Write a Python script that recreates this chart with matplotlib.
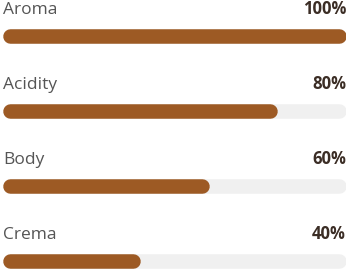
import matplotlib
matplotlib.use("Agg")
import matplotlib.pyplot as plt
from matplotlib import transforms

categories = ["Aroma", "Acidity", "Body", "Crema"]
values = [100, 80, 60, 40]
value_labels = ["100%", "80%", "60%", "40%"]

W, H, DPI = 347, 270, 100
fig = plt.figure(figsize=(W / DPI, H / DPI), dpi=DPI)
fig.patch.set_facecolor("white")

left_px, right_px = 3, 346
ax = fig.add_axes([left_px / W, 0, (right_px - left_px) / W, 1])
ax.set_xlim(0, 100)
first_c, step = 36, 75
ax.set_ylim((H - first_c) / step, -first_c / step)
ax.axis("off")

bar_px = 14.5
lw = bar_px * 72 / DPI
r = (bar_px / 2) / (right_px - left_px) * 100  # cap radius in data units

fill_color = "#9d5a24"
track_color = "#f0f0f0"

for i, (cat, v, lab) in enumerate(zip(categories, values, value_labels)):
    ax.plot([0 + r, 100 - r], [i, i], color=track_color, lw=lw,
            solid_capstyle="round", zorder=1)
    ax.plot([0 + r, v - r], [i, i], color=fill_color, lw=lw,
            solid_capstyle="round", zorder=2)
    off = transforms.offset_copy(ax.transData, fig=fig, x=0, y=22, units="dots")
    ax.text(0, i, cat, transform=off, ha="left", va="baseline",
            fontsize=12.5, family="Open Sans", color="#555555")
    ax.text(100, i, lab, transform=off, ha="right", va="baseline",
            fontsize=12, family="Open Sans", fontweight="bold", color="#3b2d25")

fig.savefig("out.png", dpi=DPI)
